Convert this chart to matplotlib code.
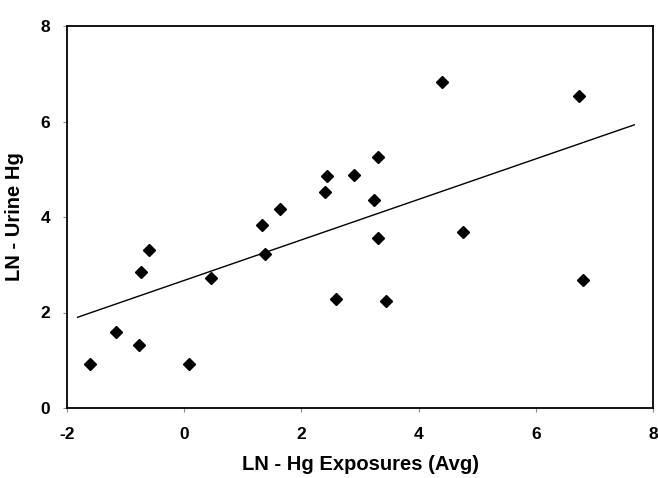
import matplotlib
matplotlib.use("Agg")
import matplotlib.pyplot as plt

# Data
exposure = [-1.60, -1.17, -0.77, -0.73, -0.60, 0.09, 0.45, 1.32, 1.38, 1.63,
            2.40, 2.43, 2.59, 2.89, 3.24, 3.30, 3.30, 3.44, 4.40, 4.76, 6.73, 6.81]
urine = [0.92, 1.60, 1.31, 2.85, 3.31, 0.92, 2.72, 3.83, 3.22, 4.17,
         4.52, 4.86, 2.29, 4.89, 4.35, 5.26, 3.57, 2.24, 6.82, 3.68, 6.54, 2.69]

fit_x = [-1.82, 7.68]
fit_y = [1.90, 5.93]

x_ticks = [-2, 0, 2, 4, 6, 8]
y_ticks = [0, 2, 4, 6, 8]

plt.rcParams['font.family'] = ['Liberation Sans', 'DejaVu Sans']

fig = plt.figure(figsize=(6.58, 4.78), dpi=100)
ax = fig.add_axes([67/658, 1 - 408/478, (653-67)/658, (408-26)/478])

ax.plot(fit_x, fit_y, color='black', linewidth=1.0)
ax.plot(exposure, urine, linestyle='none', marker='D', markersize=6.3,
        color='black')

ax.set_xlim(-2, 8)
ax.set_ylim(0, 8)
ax.set_xticks(x_ticks)
ax.set_yticks(y_ticks)
ax.set_xticklabels([str(t) for t in x_ticks], fontsize=12.5, fontweight='bold')
ax.set_yticklabels([str(t) for t in y_ticks], fontsize=12.5, fontweight='bold')
ax.tick_params(axis='x', direction='out', length=3, width=0.8, pad=11, color='#888888')
ax.tick_params(axis='y', direction='out', length=3, width=0.8, pad=9, color='#888888')
for sp in ax.spines.values():
    sp.set_linewidth(1.3)
    sp.set_color('black')

ax.set_xlabel('LN - Hg Exposures (Avg)', fontsize=14.5, fontweight='bold', labelpad=9)
ax.set_ylabel('LN - Urine Hg', fontsize=14.5, fontweight='bold', labelpad=12)

fig.savefig('out.png', dpi=100)
